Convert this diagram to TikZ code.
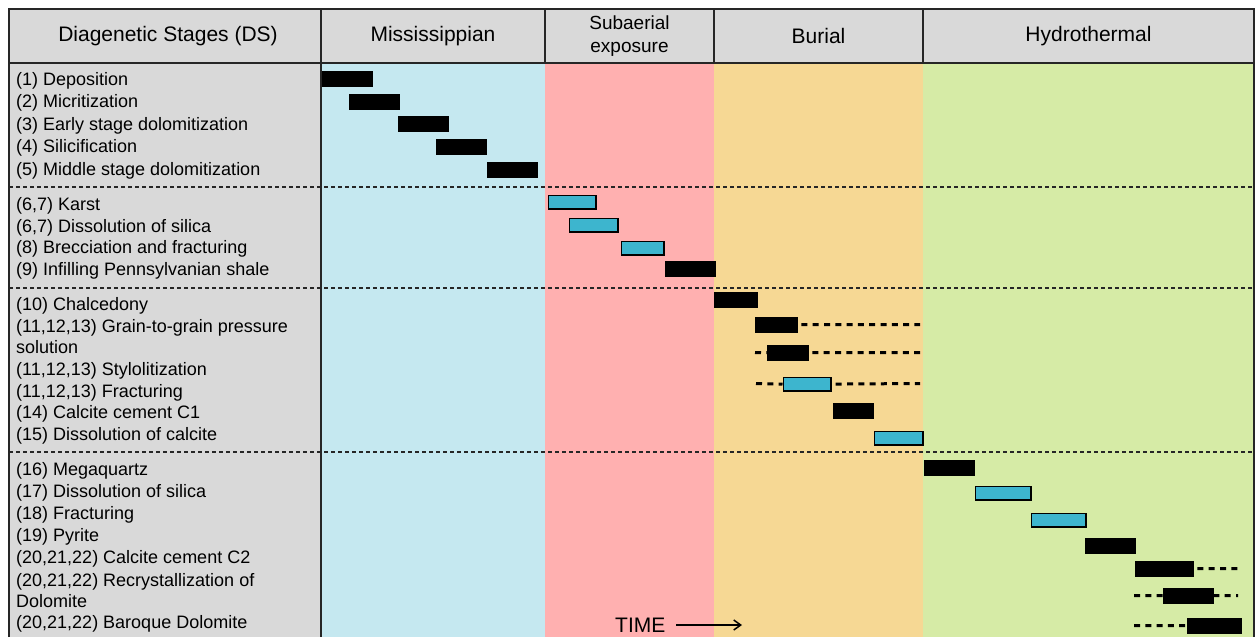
\documentclass[tikz,border=0pt]{standalone}
\usepackage{fontspec}
\setmainfont{Liberation Sans}
\usetikzlibrary{arrows.meta}

\definecolor{headgray}{RGB}{217,217,217}
\definecolor{misscol}{RGB}{197,232,240}
\definecolor{subcol}{RGB}{255,176,176}
\definecolor{burcol}{RGB}{246,216,148}
\definecolor{hydcol}{RGB}{214,235,166}
\definecolor{barcyan}{RGB}{61,181,206}

\tikzset{
	blackbar/.style={rectangle, draw=black, fill=black, inner sep=0pt, minimum height=15pt, anchor=north west},
	cyanbar/.style={rectangle, draw=black, fill=barcyan, line width=1.7pt, inner sep=0pt, minimum height=13.5pt, anchor=north west},
	trend/.style={line width=3pt, dash pattern=on 6pt off 5.3pt},
	sepline/.style={line width=1.2pt, dash pattern=on 4pt off 3pt, draw=black!85},
	stage/.style={anchor=base west, inner sep=0pt, font=\fontsize{18}{22}\selectfont},
	head/.style={align=center, inner sep=0pt, font=\fontsize{21}{23}\selectfont}
}

\begin{document}
\begin{tikzpicture}[x=1pt, y=-1pt]
	\useasboundingbox (0,0) rectangle (1255,637);
	
	% background columns
	\fill[headgray] (9,9) rectangle (1254,63);
	\fill[headgray] (9,63) rectangle (321,637);
	\fill[misscol] (321,63) rectangle (545,637);
	\fill[subcol] (545,63) rectangle (714,637);
	\fill[burcol] (714,63) rectangle (923,637);
	\fill[hydcol] (923,63) rectangle (1254,637);
	
	% frame
	\draw[line width=1.5pt, black!85] (9,637) -- (9,9) -- (1254,9) -- (1254,637);
	\draw[line width=1.5pt, black!85] (9,63) -- (1254,63);
	\draw[line width=1.5pt, black!85] (321,9) -- (321,637);
	\draw[line width=1.5pt, black!85] (545,9) -- (545,63);
	\draw[line width=1.5pt, black!85] (714,9) -- (714,63);
	\draw[line width=1.5pt, black!85] (923,9) -- (923,63);
	
	% headers
	\node[head] (hds)  at (168,36)    {Diagenetic Stages (DS)};
	\node[head] (hmis) at (433,36)    {Mississippian};
	\node[head, font=\fontsize{19}{23}\selectfont] (hsub) at (629.5,36) {Subaerial\\exposure};
	\node[head] (hbur) at (818.5,36)  {Burial};
	\node[head] (hhyd) at (1088.5,36) {Hydrothermal};
	
	% group separators
	\draw[sepline] (9,187) -- (1254,187);
	\draw[sepline] (9,288) -- (1254,288);
	\draw[sepline] (9,452) -- (1254,452);
	
	% stages
	\node[stage] (s1)  at (16,85)  {(1) Deposition};
	\node[stage] (s2)  at (16,107) {(2) Micritization};
	\node[stage] (s3)  at (16,130) {(3) Early stage dolomitization};
	\node[stage] (s4)  at (16,152) {(4) Silicification};
	\node[stage] (s5)  at (16,175) {(5) Middle stage dolomitization};
	
	\node[stage] (s6)  at (16,210) {(6,7) Karst};
	\node[stage] (s7)  at (16,232) {(6,7) Dissolution of silica};
	\node[stage] (s8)  at (16,253) {(8) Brecciation and fracturing};
	\node[stage] (s9)  at (16,275) {(9) Infilling Pennsylvanian shale};
	
	\node[stage] (s10) at (16,310) {(10) Chalcedony};
	\node[stage] (s11) at (16,332) {(11,12,13) Grain-to-grain pressure};
	\node[stage] (s11b) at (16,353) {solution};
	\node[stage] (s12) at (16,375) {(11,12,13) Stylolitization};
	\node[stage] (s13) at (16,397) {(11,12,13) Fracturing};
	\node[stage] (s14) at (16,418) {(14) Calcite cement C1};
	\node[stage] (s15) at (16,440) {(15) Dissolution of calcite};
	
	\node[stage] (s16) at (16,475) {(16) Megaquartz};
	\node[stage] (s17) at (16,497) {(17) Dissolution of silica};
	\node[stage] (s18) at (16,519) {(18) Fracturing};
	\node[stage] (s19) at (16,541) {(19) Pyrite};
	\node[stage] (s20) at (16,563) {(20,21,22) Calcite cement C2};
	\node[stage] (s21) at (16,586) {(20,21,22) Recrystallization of};
	\node[stage] (s21b) at (16,607) {Dolomite};
	\node[stage] (s22) at (16,628) {(20,21,22) Baroque Dolomite};
	
	% bars
	\node[blackbar, minimum width=50pt] (b1)  at (322,71)  {};
	\node[blackbar, minimum width=50pt] (b2)  at (349,94)  {};
	\node[blackbar, minimum width=50pt] (b3)  at (398,116) {};
	\node[blackbar, minimum width=50pt] (b4)  at (436,139) {};
	\node[blackbar, minimum width=50pt] (b5)  at (487,162) {};
	
	\node[cyanbar, minimum width=47.5pt] (b6)  at (547.5,194.5) {};
	\node[cyanbar, minimum width=48.5pt] (b7)  at (568.5,217.5) {};
	\node[cyanbar, minimum width=42.5pt] (b8)  at (620.5,240.5) {};
	\node[blackbar, minimum width=50pt] (b9)  at (665,261)   {};
	
	\node[blackbar, minimum width=43pt] (b10) at (714,292)   {};
	\node[blackbar, minimum width=42pt] (b11) at (755,317)   {};
	\node[blackbar, minimum width=41pt] (b12) at (767,345)   {};
	\node[cyanbar, minimum width=47.5pt] (b13) at (782.5,376.5) {};
	\node[blackbar, minimum width=40pt] (b14) at (833,403)   {};
	\node[cyanbar, minimum width=48.5pt] (b15) at (873.5,430.5) {};
	
	\node[blackbar, minimum width=50pt] (b16) at (924,460)   {};
	\node[cyanbar, minimum width=55.5pt] (b17) at (974.5,485.5) {};
	\node[cyanbar, minimum width=54.5pt] (b18) at (1030.5,512.5) {};
	\node[blackbar, minimum width=50pt] (b19) at (1085,538)  {};
	\node[blackbar, minimum width=58pt] (b20) at (1135,561)  {};
	\node[blackbar, minimum width=50pt] (b21) at (1163,588)  {};
	\node[blackbar, minimum width=54pt] (b22) at (1187,618)  {};
	
	% possible extent
	\coordinate (e11) at (920,324.5);
	\coordinate (f12) at (755,352.5);
	\coordinate (e12) at (920,352.5);
	\coordinate (f13) at (756,383.5);
	\coordinate (e13) at (920,383.5);
	\coordinate (e20) at (1238,568.5);
	\coordinate (f21) at (1134,595.5);
	\coordinate (e21) at (1238,595.5);
	\coordinate (f22) at (1134,625.5);
	
	\draw[trend, shorten <=4pt] (b11.east) -- (e11);
	\draw[trend] (f12) -- (b12.west);
	\draw[trend, shorten <=4pt] (b12.east) -- (e12);
	\draw[trend] (f13) -- (b13.west);
	\draw[trend, shorten <=4pt] (b13.east) -- (e13);
	\draw[trend, shorten <=4pt] (b20.east) -- (e20);
	\draw[trend] (f21) -- (b21.west);
	\draw[trend] (b21.east) -- (e21);
	\draw[trend] (f22) -- (b22.west);
	
	% time axis
	\node[anchor=base west, inner sep=0pt, font=\fontsize{21}{23}\selectfont] (time) at (615,632) {TIME};
	\coordinate (tend) at (742,625);
	\draw[line width=1.5pt, -{Straight Barb[length=7pt, width=10pt]}] (676,625) -- (tend);
\end{tikzpicture}
\end{document}
